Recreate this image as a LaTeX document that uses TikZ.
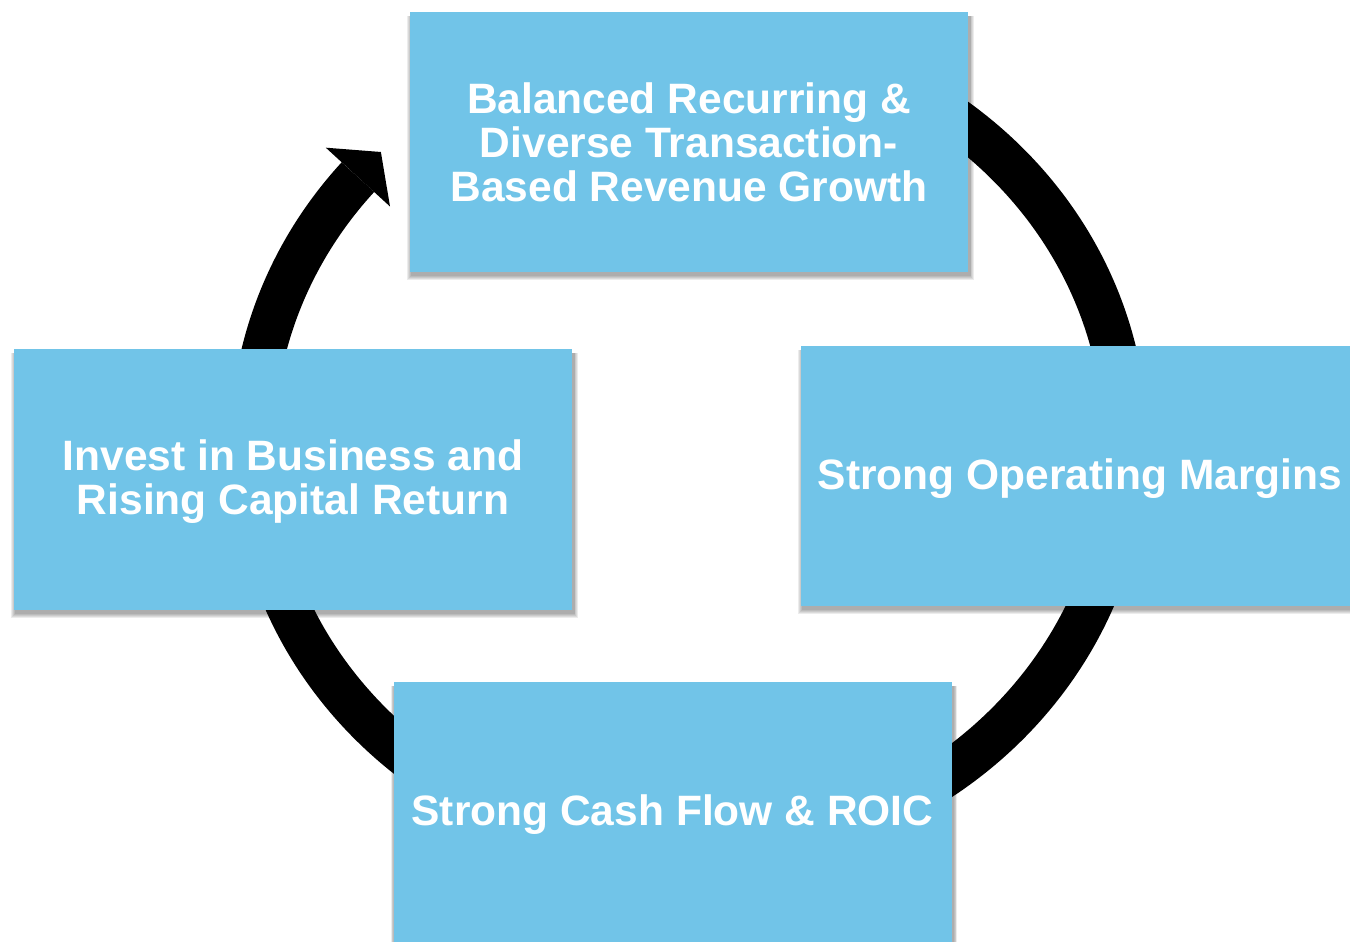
\documentclass[tikz,border=0pt]{standalone}
\usepackage{fontspec}
\setmainfont{Liberation Sans}
\usetikzlibrary{backgrounds}
\definecolor{boxblue}{RGB}{113,196,232}
\newcommand{\lowertext}[2]{\raisebox{-#1}[\height][\depth]{#2}}
\begin{document}
\begin{tikzpicture}[x=1pt,y=1pt,
  box/.style={fill=boxblue, minimum width=558pt, minimum height=260pt, inner sep=0pt,
    text=white, align=center, font=\bfseries\fontsize{42.5}{44}\selectfont},
  ring/.style={line width=44pt, black},
  shadowlayer/.style={fill=black, opacity=0.075}]
\useasboundingbox (0,0) rectangle (1350,942);
\node[box] (top) at (689,800) {Balanced Recurring \&\\Diverse Transaction-\\Based Revenue Growth};
\node[box] (right) at (1080,466) {\lowertext{3pt}{Strong Operating Margins}};
\node[box] (bottom) at (672.5,130) {\lowertext{3pt}{Strong Cash Flow \& ROIC}};
\node[box, minimum height=261pt] (left) at (293,462.5) {\lowertext{4pt}{\begin{tabular}{@{}c@{}}Invest in Business and\\Rising Capital Return\end{tabular}}};
\coordinate (ringstart) at (613.17,900.99);
\coordinate (ringend) at (357.9,764.9);
\coordinate (barbA) at (325.8,794.3);
\coordinate (barbB) at (390.0,735.5);
\coordinate (tip) at (380.9,790.0);
\begin{pgfonlayer}{background}
  \draw[ring] (ringstart) arc[start angle=100, end angle=-220.7, x radius=436.7, y radius=409];
  \fill[black] (barbA) -- (tip) -- (barbB) -- cycle;
  \foreach \n in {top,right,bottom,left}{
    \foreach \s in {1,...,5}{
      \fill[shadowlayer] ([shift={(1.5-0.8*\s,-3-\s)}]\n.south west) rectangle ([shift={(1.5+0.8*\s,-4)}]\n.north east);
    }
  }
\end{pgfonlayer}
\end{tikzpicture}
\end{document}
